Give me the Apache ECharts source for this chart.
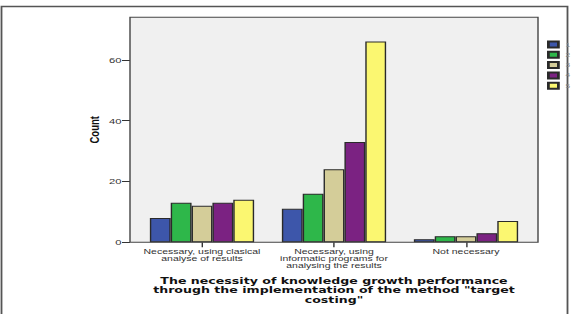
<!DOCTYPE html>
<html>
<head>
<meta charset="utf-8">
<script src="https://cdn.jsdelivr.net/npm/echarts@6/dist/echarts.min.js"></script>
<style>
html,body{margin:0;padding:0;background:#fff;overflow:hidden;width:574px;height:314px;}
#chart{position:absolute;left:0;top:0;height:314px;transform-origin:0 0;}
</style>
</head>
<body>
<div id="chart"></div>
<script>
// ---- data ----
const categories = [
  'Necessary, using clasical\nanalyse of results',
  'Necessary, using\ninformatic programs for\nanalysing the results',
  'Not necessary'
];
const seriesNames = ['1', '2', '3', '4', '5'];
const values1 = [8, 11, 1];
const values2 = [13, 16, 2];
const values3 = [12, 24, 2];
const values4 = [13, 33, 3];
const values5 = [14, 66, 7];
const yTicks = [0, 20, 40, 60];
const yMax = 74;
const xTitle = 'The necessity of knowledge growth performance\nthrough the implementation of the method "target\ncosting"';
const yTitle = 'Count';
const colors = ['#3d56aa', '#2eb74a', '#d4cd99', '#7b2282', '#fbf771'];

// ---- layout (the original picture is stretched horizontally) ----
const SX = 1.4;
const W = 574 / SX;
const el = document.getElementById('chart');
el.style.width = W + 'px';
el.style.transform = 'scaleX(' + SX + ')';
const px = v => v / SX; // horizontal reference pixels -> chart units

const plotL = 130, plotR = 538, plotT = 17.3, plotB = 242.3;
const axisL = 136, axisR = 532;

const chart = echarts.init(el, null, {renderer: 'svg', width: W, height: 314});
const allValues = [values1, values2, values3, values4, values5];

chart.setOption({
  animation: false,
  backgroundColor: '#fff',
  graphic: [
    {type: 'rect', z: -10, silent: true,
     shape: {x: px(1.5), y: 6.5, width: px(566), height: 320},
     style: {fill: '#fff', stroke: '#555', lineWidth: 1.3}},
    {type: 'rect', z: -5, silent: true,
     shape: {x: px(plotL), y: plotT, width: px(plotR - plotL), height: plotB - plotT},
     style: {fill: '#f0f0f0', stroke: null}},
    {type: 'rect', z: 100, silent: true,
     shape: {x: px(plotL), y: plotT, width: px(plotR - plotL), height: plotB - plotT},
     style: {fill: 'none', stroke: '#444', lineWidth: 1}}
  ],
  grid: {left: px(axisL), right: W - px(axisR), top: plotT, bottom: 314 - plotB, containLabel: false},
  legend: {
    orient: 'vertical', left: px(540), top: 35.5,
    itemWidth: px(10), itemHeight: 6, itemGap: 2.3, icon: 'rect',
    textStyle: {fontSize: 6, lineHeight: 6, color: '#888', fontFamily: 'Liberation Sans'},
    data: seriesNames
  },
  xAxis: {
    type: 'category', data: categories,
    axisLine: {show: false},
    axisTick: {show: true, alignWithLabel: true, length: 5, lineStyle: {color: '#333', width: 1}},
    axisLabel: {margin: 5.5, fontSize: 7.5, lineHeight: 7, color: '#333', fontFamily: 'Liberation Sans', interval: 0},
    name: xTitle, nameLocation: 'middle', nameGap: 34, nameMoveOverlap: false,
    nameTextStyle: {fontFamily: 'DejaVu Sans', fontWeight: 'bold', fontSize: 9, lineHeight: 9.5, color: '#111'}
  },
  yAxis: {
    type: 'value', min: 0, max: yMax, interval: 20, offset: px(axisL - plotL),
    axisLine: {show: false},
    splitLine: {show: false},
    axisTick: {show: true, length: px(8), customValues: yTicks, lineStyle: {color: '#333', width: 1}},
    axisLabel: {margin: px(8.5), fontSize: 8, color: '#333', fontFamily: 'Liberation Sans', customValues: yTicks},
    name: yTitle, nameLocation: 'middle', nameGap: px(29), nameMoveOverlap: false,
    nameTextStyle: {fontFamily: 'Liberation Sans', fontWeight: 'bold', fontSize: 9.5, color: '#111'}
  },
  series: seriesNames.map((n, i) => ({
    name: n, type: 'bar', data: allValues[i],
    barGap: '0%', barCategoryGap: '21%',
    itemStyle: {color: colors[i], borderColor: '#2a2a2a', borderWidth: 1}
  }))
});
</script>
</body>
</html>
